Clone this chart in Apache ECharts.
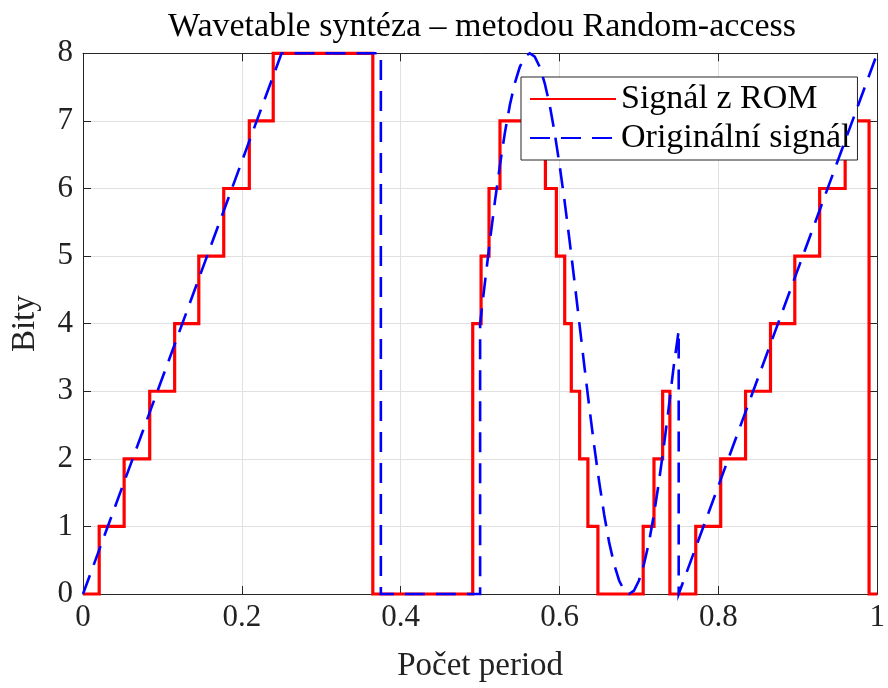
<!DOCTYPE html>
<html>
<head>
<meta charset="utf-8">
<script src="https://cdn.jsdelivr.net/npm/echarts@6/dist/echarts.min.js"></script>
<style>
html,body{margin:0;padding:0;background:#fff;}
#chart{width:888px;height:688px;}
</style>
</head>
<body>
<div id="chart"></div>
<script>
// ---- data ----
var titleText = 'Wavetable syntéza – metodou Random-access';
var xName = 'Počet period';
var yName = 'Bity';
var legendNames = ['Signál z ROM', 'Originální signál'];

// Signál z ROM: step breakpoints (value holds until next x)
var romX = [0, 0.0204, 0.0518, 0.0840, 0.1154, 0.1458, 0.1772, 0.2094, 0.2395, 0.3649,
            0.4907, 0.5012, 0.5112, 0.5250, 0.5822, 0.5960, 0.6065, 0.6148, 0.6253, 0.6357, 0.6483,
            0.7053, 0.7189, 0.7298, 0.7389,
            0.7715, 0.8029, 0.8342, 0.8656, 0.8962, 0.9275, 0.9596, 0.9897, 1.0];
var romY = [0, 1, 2, 3, 4, 5, 6, 7, 8, 0,
            4, 5, 6, 7, 6, 5, 4, 3, 2, 1, 0,
            1, 2, 3, 0,
            1, 2, 3, 4, 5, 6, 7, 0, 0];

// Originální signál
var origX = [0, 0.25, 0.375, 0.375, 0.5,
             0.5, 0.50625, 0.5125, 0.51875, 0.525, 0.53125, 0.5375, 0.54375, 0.55, 0.55625,
             0.5625, 0.56875, 0.575, 0.58125, 0.5875, 0.59375, 0.6, 0.60625, 0.6125, 0.61875,
             0.625, 0.63125, 0.6375, 0.64375, 0.65, 0.65625, 0.6625, 0.66875, 0.675, 0.68125,
             0.6875, 0.69375, 0.7, 0.70625, 0.7125, 0.71875, 0.725, 0.73125, 0.7375, 0.74375,
             0.75, 0.75, 1.0];
var origY = [0, 8, 8, 0, 0,
             4.00, 4.63, 5.24, 5.82, 6.35, 6.83, 7.24, 7.56, 7.80, 7.95,
             8.00, 7.95, 7.80, 7.56, 7.24, 6.83, 6.35, 5.82, 5.24, 4.63,
             4.00, 3.37, 2.76, 2.18, 1.65, 1.17, 0.76, 0.44, 0.20, 0.05,
             0.00, 0.05, 0.20, 0.44, 0.76, 1.17, 1.65, 2.18, 2.76, 3.37,
             3.90, 0, 8];

var xMin = 0, xMax = 1, xStep = 0.2;
var yMin = 0, yMax = 8, yStep = 1;

// ---- build chart ----
var FONT = 'Liberation Serif';
var AX = '#262626';
function pairs(xs, ys){ return xs.map(function(x,i){ return [x, ys[i]]; }); }

var chart = echarts.init(document.getElementById('chart'), null, {renderer:'canvas'});
var axisCommon = {
  axisLine:{show:true, onZero:false, lineStyle:{color:AX, width:1}},
  axisTick:{show:true, inside:true, length:8, lineStyle:{color:AX, width:1}}
};
chart.setOption({
  animation:false,
  backgroundColor:'#fff',
  title:{
    text:titleText, left:482, top:10, textAlign:'center', padding:0,
    textStyle:{fontFamily:FONT, fontSize:34, fontWeight:'normal', color:'#000'}
  },
  legend:{
    data:legendNames, orient:'vertical', left:521, top:77,
    padding:[4,7,4,8], itemWidth:86, itemHeight:20, itemGap:3,
    backgroundColor:'#fff', borderColor:AX, borderWidth:1, borderRadius:0,
    itemStyle:{opacity:0},
    textStyle:{fontFamily:FONT, fontSize:34, color:'#000', lineHeight:36}
  },
  grid:{left:83, right:7.3, top:53.3, bottom:88.7, containLabel:false},
  xAxis:[
    Object.assign({type:'value', min:xMin, max:xMax, interval:xStep, position:'bottom',
      name:xName, nameLocation:'middle', nameGap:56,
      nameTextStyle:{fontFamily:FONT, fontSize:33, color:'#222'},
      axisLabel:{fontFamily:FONT, fontSize:31, color:'#222', margin:8},
      splitLine:{show:true, lineStyle:{color:'#e1e1e1', width:1}}}, axisCommon),
    Object.assign({type:'value', min:xMin, max:xMax, interval:xStep, position:'top',
      axisLabel:{show:false}, splitLine:{show:false}}, axisCommon)
  ],
  yAxis:[
    Object.assign({type:'value', min:yMin, max:yMax, interval:yStep, position:'left',
      name:yName, nameLocation:'middle', nameGap:41,
      nameTextStyle:{fontFamily:FONT, fontSize:33, color:'#222'},
      axisLabel:{fontFamily:FONT, fontSize:31, color:'#222', margin:10},
      splitLine:{show:true, lineStyle:{color:'#e1e1e1', width:1}}}, axisCommon),
    Object.assign({type:'value', min:yMin, max:yMax, interval:yStep, position:'right',
      axisLabel:{show:false}, splitLine:{show:false}}, axisCommon)
  ],
  series:[
    {name:legendNames[0], type:'line', step:'end', data:pairs(romX, romY),
     symbol:'none', clip:false, z:3,
     lineStyle:{color:'#ff0000', width:3.2, join:'miter'}, itemStyle:{color:'#ff0000'}},
    {name:legendNames[1], type:'line', data:pairs(origX, origY),
     symbol:'none', clip:false, z:4,
     lineStyle:{color:'#0000ff', width:2.6, type:[20,11], join:'miter'}, itemStyle:{color:'#0000ff'}}
  ]
});
</script>
</body>
</html>
